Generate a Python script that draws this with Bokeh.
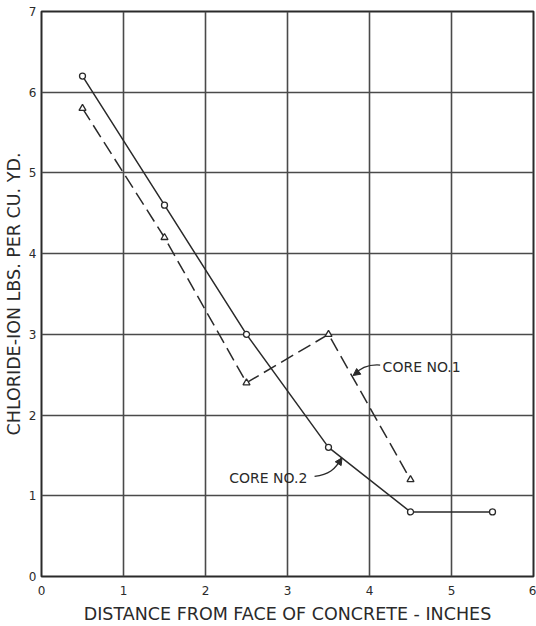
from bokeh.plotting import figure
from bokeh.models import Range1d, FixedTicker, Label, Arrow, NormalHead
from bokeh.embed import file_html
from bokeh.resources import INLINE

# Data
distance_core2 = [0.5, 1.5, 2.5, 3.5, 4.5, 5.5]
chloride_core2 = [6.2, 4.6, 3.0, 1.6, 0.8, 0.8]
distance_core1 = [0.5, 1.5, 2.5, 3.5, 4.5]
chloride_core1 = [5.8, 4.2, 2.4, 3.0, 1.2]
x_ticks = [0, 1, 2, 3, 4, 5, 6]
y_ticks = [0, 1, 2, 3, 4, 5, 6, 7]
x_title = "DISTANCE FROM FACE OF CONCRETE - INCHES"
y_title = "CHLORIDE-ION LBS. PER CU. YD."
label_core1 = "CORE  NO.1"
label_core2 = "CORE  NO.2"

FONT = "DejaVu Sans"
INK = "#2a2a2a"
GRID = "#4a4a4a"

p = figure(width=536, height=626, output_backend="svg", toolbar_location=None,
           x_range=Range1d(0, 6), y_range=Range1d(0, 7),
           min_border_left=41, min_border_right=3, min_border_top=11, min_border_bottom=10)
p.background_fill_color = "white"
p.border_fill_color = "white"
p.outline_line_color = INK
p.outline_line_width = 2

for ax, ticks in ((p.xaxis[0], x_ticks), (p.yaxis[0], y_ticks)):
    ax.ticker = FixedTicker(ticks=ticks)
    ax.axis_line_color = None
    ax.major_tick_line_color = None
    ax.minor_tick_line_color = None
    ax.major_tick_in = 0
    ax.major_tick_out = 0
    ax.major_label_text_font = FONT
    ax.major_label_text_font_size = "12px"
    ax.major_label_text_color = INK
    ax.axis_label_text_font = FONT
    ax.axis_label_text_font_size = "17.5px"
    ax.axis_label_text_font_style = "normal"
    ax.axis_label_text_color = INK

p.xaxis.axis_label = x_title
p.yaxis.axis_label = y_title
p.xaxis.major_label_standoff = 9
p.xaxis.axis_label_standoff = 6
p.yaxis.major_label_standoff = 5
p.yaxis.axis_label_standoff = 2

p.xgrid.ticker = FixedTicker(ticks=x_ticks)
p.ygrid.ticker = FixedTicker(ticks=y_ticks)
for g in (p.xgrid, p.ygrid):
    g.grid_line_color = GRID
    g.grid_line_width = 1.6
    g.grid_line_alpha = 1.0

# Core No. 2 - solid with circles
p.line(distance_core2, chloride_core2, line_color=INK, line_width=1.5)
p.scatter(distance_core2, chloride_core2, marker="circle", size=6,
          fill_color="white", line_color=INK, line_width=1.3)

# Core No. 1 - dashed with triangles
p.line(distance_core1, chloride_core1, line_color=INK, line_width=1.5, line_dash="14 6")
p.scatter(distance_core1, chloride_core1, marker="triangle", size=7,
          fill_color="white", line_color=INK, line_width=1.3)

# Annotations
p.add_layout(Label(x=4.16, y=2.60, text=label_core1, text_font=FONT,
                   text_font_size="14px", text_color=INK,
                   text_baseline="middle", text_align="left"))
p.bezier(x0=[4.13], y0=[2.62], x1=[3.82], y1=[2.50],
         cx0=[3.98], cy0=[2.63], cx1=[3.88], cy1=[2.58],
         line_color=INK, line_width=1.3)
p.add_layout(Arrow(x_start=3.86, y_start=2.535, x_end=3.80, y_end=2.49,
                   line_color=INK, line_width=1,
                   end=NormalHead(size=7, fill_color=INK, line_color=INK)))

p.add_layout(Label(x=2.29, y=1.22, text=label_core2, text_font=FONT,
                   text_font_size="14px", text_color=INK,
                   text_baseline="middle", text_align="left"))
p.bezier(x0=[3.33], y0=[1.24], x1=[3.66], y1=[1.47],
         cx0=[3.50], cy0=[1.26], cx1=[3.58], cy1=[1.32],
         line_color=INK, line_width=1.3)
p.add_layout(Arrow(x_start=3.62, y_start=1.40, x_end=3.665, y_end=1.47,
                   line_color=INK, line_width=1,
                   end=NormalHead(size=7, fill_color=INK, line_color=INK)))

open("out.html", "w").write(file_html(p, INLINE))
